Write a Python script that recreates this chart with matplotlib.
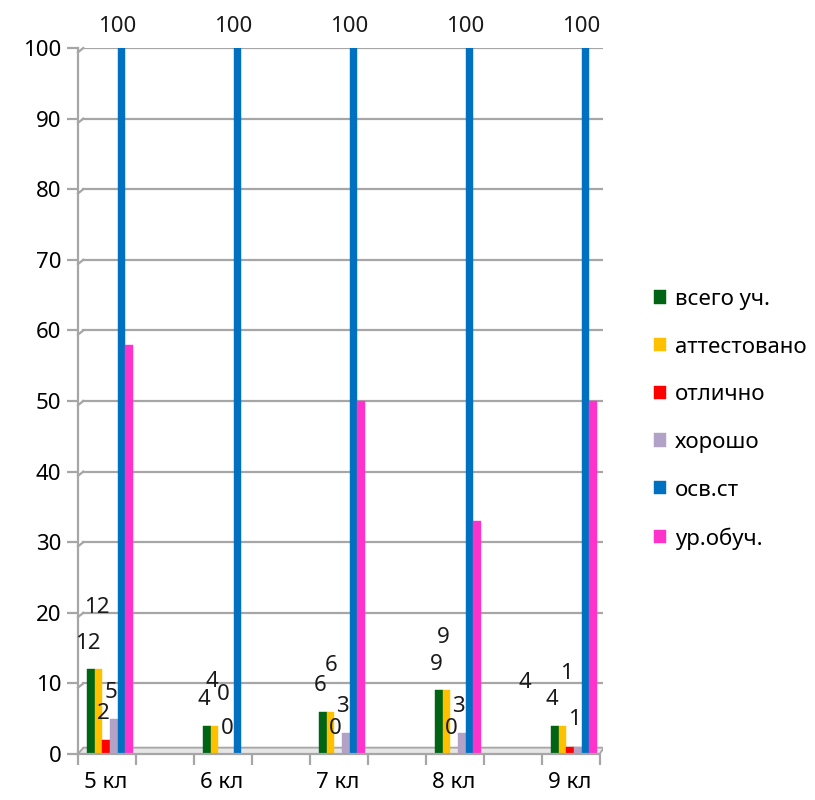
import numpy as np
import matplotlib.pyplot as plt
from matplotlib.patches import Polygon

plt.rcParams['font.family'] = ['Noto Sans', 'DejaVu Sans']

# data
classes = ['5 кл', '6 кл', '7 кл', '8 кл', '9 кл']
series = ['всего уч.', 'аттестовано', 'отлично', 'хорошо', 'осв.ст', 'ур.обуч.']
vsego = [12, 4, 6, 9, 4]
attest = [12, 4, 6, 9, 4]
otlichno = [2, 0, 0, 0, 1]
horosho = [5, 0, 3, 3, 1]
osv = [100, 100, 100, 100, 100]
urobuch = [58, 0, 50, 33, 50]
values = [vsego, attest, otlichno, horosho, osv, urobuch]
colors = ['#006414', '#FFC000', '#FF0000', '#B3A2C7', '#0070C0', '#FF33CC']

# label nudges in pixels (dx, dy) for overlapping labels
default_nudge = (-3, 26)
nudges = {
    (1, 0): (-2, 62), (1, 1): (-3, 44), (1, 2): (1, 46), (1, 3): (-3, 53),
    (1, 4): (-38, 43), (2, 1): (1, 59), (2, 4): (4, 27), (3, 4): (-11, 73),
}

fig = plt.figure(figsize=(8.15, 8), dpi=100)
ax = fig.add_axes([78 / 815, 46 / 800, 525 / 815, 706 / 800])

x = np.arange(len(classes))
w = 0.066
grid_c = '#a6a6a6'

for yv in range(10, 101, 10):
    ax.plot([-0.23, 4.25], [yv, yv], color=grid_c, lw=1.6, zorder=0)
    ax.plot([-0.276, -0.23], [yv - 0.6, yv], color=grid_c, lw=1.6, zorder=0, clip_on=False)

# floor
floor = Polygon([(-0.276, 0), (4.22, 0), (4.26, 0.9), (-0.23, 0.9)],
                closed=True, facecolor='#e6e6e6', edgecolor=grid_c, lw=1.3, zorder=1)
ax.add_patch(floor)

for i, (name, vals, col) in enumerate(zip(series, values, colors)):
    pos = x + (i - 2.5) * w
    ax.bar(pos, vals, width=w, color=col, edgecolor=col, lw=0.3, label=name, zorder=2)
    if i < 4:
        for j, v in enumerate(vals):
            dx, dy = nudges.get((i, j), default_nudge)
            ax.annotate(str(v), (pos[j], v), xytext=(dx, dy), textcoords='offset pixels',
                        ha='center', va='center', fontsize=16, color='#1a1a1a', zorder=5)
    elif i == 4:
        for j, v in enumerate(vals):
            ax.annotate(str(v), (pos[j], v), xytext=(-4, 22), textcoords='offset pixels',
                        ha='center', va='center', fontsize=16, color='#1a1a1a',
                        annotation_clip=False)

ax.set_xlim(-0.276, 4.25)
ax.set_ylim(0, 100)
ax.set_yticks(range(0, 101, 10))
ax.set_xticks(x - 0.04)
ax.set_xticklabels(classes)
ax.set_xticks(-0.276 + 0.5 * np.arange(10), minor=True)
ax.tick_params(axis='x', which='major', length=0, pad=13, labelsize=16)
ax.tick_params(axis='x', which='minor', length=8, width=1.6, color=grid_c, direction='out')
ax.tick_params(axis='y', length=8, width=1.6, color=grid_c, labelsize=16, pad=4)
for s in ['top', 'right', 'bottom']:
    ax.spines[s].set_visible(False)
ax.spines['left'].set_color(grid_c)
ax.spines['left'].set_linewidth(1.6)
ax.axhline(0, xmin=0, xmax=0.99, color=grid_c, lw=1.6, clip_on=False)

leg = fig.legend(loc='upper left', bbox_to_anchor=(645 / 815, 1 - 280 / 800), frameon=False,
                 fontsize=16, handlelength=0.55, handleheight=0.55, handletextpad=0.4,
                 labelspacing=1.2, borderaxespad=0)

fig.savefig('out.png', dpi=100)
